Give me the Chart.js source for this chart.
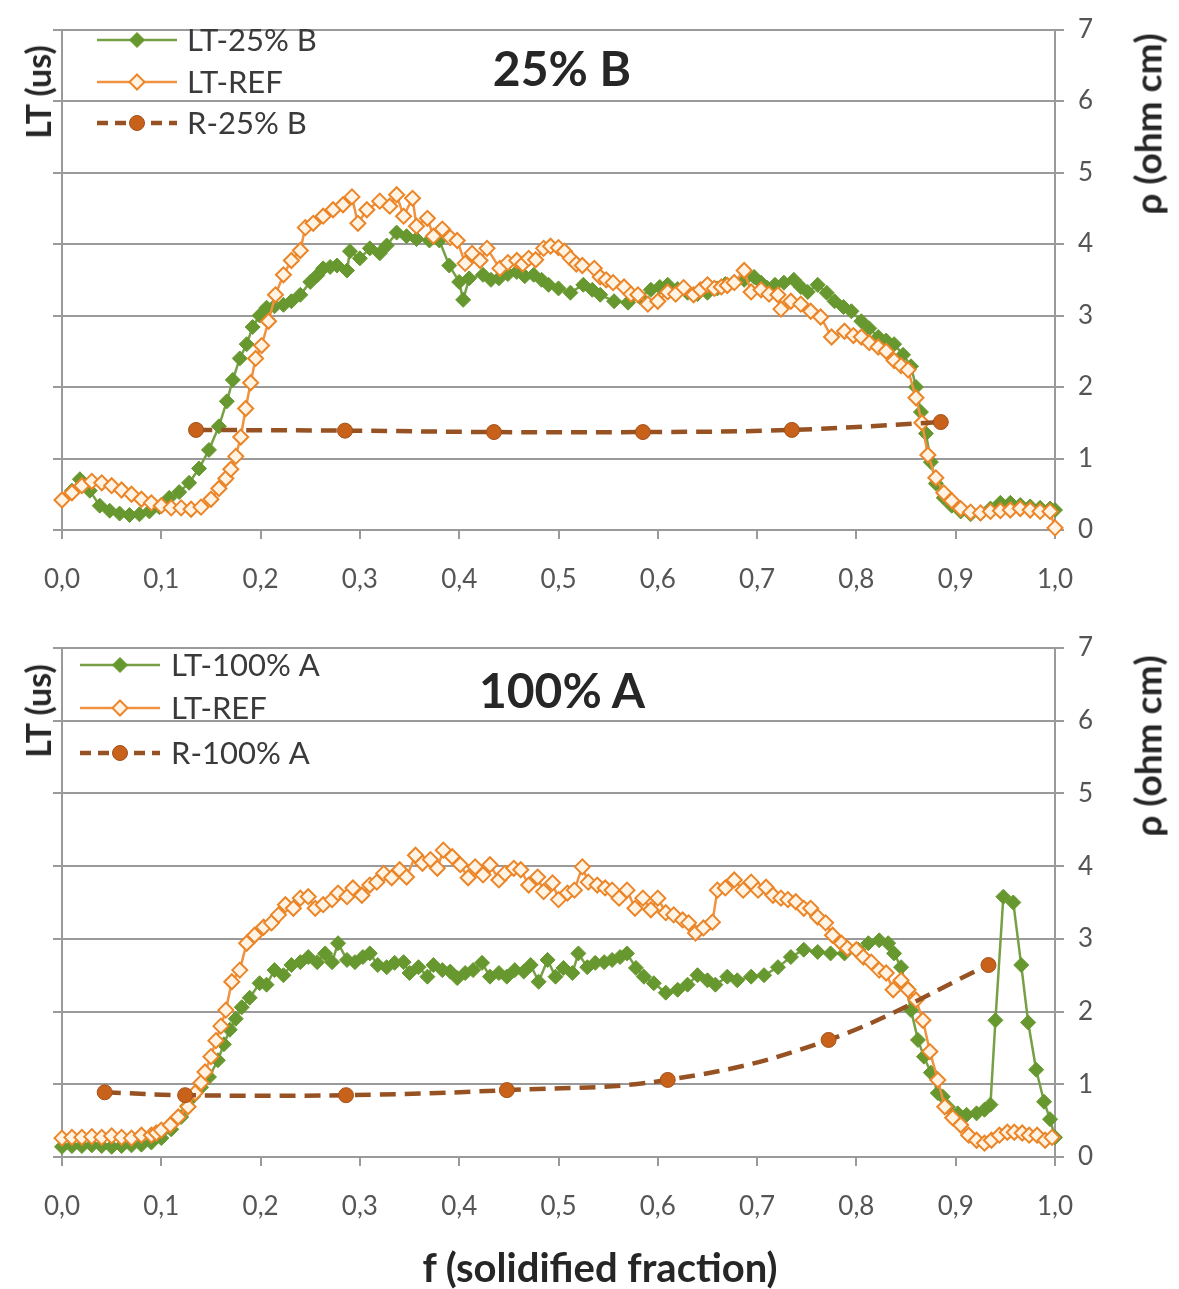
<!DOCTYPE html>
<html>
<head>
<meta charset="utf-8">
<script src="https://cdn.jsdelivr.net/npm/chart.js@4.4.1/dist/chart.umd.min.js"></script>
<style>
  html, body { margin: 0; padding: 0; background: #ffffff; }
  #page { position: relative; width: 1179px; height: 1289px; overflow: hidden; font-family: Lato, "Open Sans", sans-serif; }
  canvas { position: absolute; left: 0; }
  .t { position: absolute; white-space: nowrap; font-weight: bold; color: #262626; transform: translate(-50%, -50%); line-height: 1; }
  .v { transform: translate(-50%, -50%) rotate(-90deg); }
</style>
</head>
<body>
<div id="page">
  <canvas id="topChart" width="1179" height="600" style="top:0"></canvas>
  <canvas id="bottomChart" width="1179" height="679" style="top:610px"></canvas>

  <div class="t v" style="left:38px; top:92px; font-size:34px;">LT (us)</div>
  <div class="t v" style="left:1147px; top:124px; font-size:37px;">ρ (ohm cm)</div>
  <div class="t" style="left:562px; top:68px; font-size:48px;">25% B</div>

  <div class="t v" style="left:38px; top:711px; font-size:34px;">LT (us)</div>
  <div class="t v" style="left:1147px; top:746px; font-size:37px;">ρ (ohm cm)</div>
  <div class="t" style="left:562px; top:690px; font-size:48px;">100% A</div>

  <div class="t" style="left:600px; top:1267px; font-size:40px;">f (solidified fraction)</div>
</div>

<script>
// Solidified fraction tick labels (decimal comma) and resistivity ticks
const fTickLabels = ['0,0', '0,1', '0,2', '0,3', '0,4', '0,5', '0,6', '0,7', '0,8', '0,9', '1,0'];
const rhoTicks = [0, 1, 2, 3, 4, 5, 6, 7];

// ---------- 25% B ----------
const lt25BF = [0.000,0.010,0.018,0.028,0.038,0.048,0.058,0.068,0.078,0.088,0.098,0.108,0.118,0.128,0.138,0.148,0.158,0.166,0.172,0.179,0.186,0.192,0.199,0.206,0.214,0.223,0.231,0.240,0.250,0.257,0.263,0.270,0.277,0.287,0.290,0.300,0.310,0.320,0.327,0.337,0.347,0.357,0.370,0.380,0.390,0.400,0.404,0.410,0.424,0.432,0.440,0.449,0.458,0.466,0.475,0.483,0.490,0.500,0.512,0.525,0.534,0.542,0.556,0.570,0.582,0.593,0.602,0.610,0.620,0.630,0.640,0.650,0.660,0.668,0.677,0.687,0.697,0.704,0.710,0.718,0.727,0.737,0.744,0.751,0.761,0.770,0.778,0.787,0.795,0.805,0.813,0.822,0.830,0.838,0.847,0.855,0.860,0.865,0.870,0.875,0.880,0.888,0.896,0.905,0.915,0.925,0.935,0.945,0.955,0.965,0.975,0.985,0.995,1.000];
const lt25BV = [0.42,0.55,0.71,0.55,0.34,0.27,0.23,0.21,0.22,0.26,0.32,0.45,0.53,0.66,0.86,1.12,1.45,1.80,2.10,2.40,2.60,2.84,3.00,3.11,3.13,3.15,3.20,3.29,3.47,3.56,3.66,3.68,3.70,3.63,3.90,3.80,3.94,3.87,3.98,4.16,4.11,4.07,4.05,4.05,3.70,3.47,3.22,3.52,3.57,3.50,3.52,3.58,3.61,3.55,3.57,3.50,3.43,3.38,3.32,3.43,3.36,3.29,3.20,3.18,3.26,3.36,3.40,3.43,3.37,3.32,3.30,3.32,3.38,3.44,3.47,3.50,3.54,3.46,3.39,3.43,3.46,3.50,3.40,3.33,3.43,3.32,3.20,3.12,3.06,2.92,2.82,2.70,2.65,2.60,2.45,2.29,2.00,1.65,1.35,0.95,0.65,0.45,0.34,0.26,0.22,0.23,0.30,0.38,0.38,0.35,0.33,0.31,0.30,0.28];

const ltRefTopF = [0.000,0.010,0.020,0.030,0.040,0.050,0.060,0.070,0.080,0.090,0.100,0.110,0.120,0.130,0.140,0.150,0.158,0.165,0.170,0.175,0.180,0.185,0.190,0.195,0.201,0.208,0.215,0.223,0.231,0.240,0.245,0.253,0.263,0.273,0.283,0.292,0.298,0.307,0.320,0.330,0.337,0.344,0.353,0.357,0.368,0.374,0.383,0.391,0.398,0.406,0.413,0.421,0.428,0.441,0.449,0.458,0.464,0.470,0.477,0.485,0.492,0.500,0.506,0.512,0.518,0.524,0.536,0.542,0.548,0.555,0.566,0.573,0.580,0.590,0.600,0.610,0.618,0.626,0.636,0.643,0.650,0.657,0.664,0.670,0.677,0.687,0.694,0.704,0.712,0.721,0.724,0.734,0.744,0.754,0.764,0.775,0.788,0.797,0.805,0.813,0.822,0.830,0.838,0.845,0.852,0.860,0.866,0.872,0.880,0.888,0.896,0.905,0.915,0.925,0.935,0.945,0.955,0.965,0.975,0.985,0.995,1.000];
const ltRefTopV = [0.42,0.52,0.62,0.68,0.66,0.62,0.56,0.50,0.43,0.38,0.34,0.31,0.31,0.29,0.32,0.43,0.58,0.72,0.85,1.03,1.30,1.70,2.06,2.40,2.58,2.92,3.29,3.57,3.77,3.91,4.23,4.29,4.39,4.48,4.55,4.66,4.29,4.48,4.60,4.53,4.69,4.39,4.64,4.25,4.36,4.11,4.21,4.09,4.05,3.73,3.87,3.77,3.94,3.66,3.74,3.77,3.72,3.80,3.78,3.94,3.97,3.95,3.90,3.80,3.72,3.70,3.66,3.54,3.50,3.46,3.40,3.30,3.29,3.16,3.20,3.33,3.30,3.39,3.29,3.36,3.43,3.38,3.40,3.42,3.46,3.63,3.33,3.36,3.30,3.29,3.09,3.20,3.16,3.06,2.98,2.70,2.78,2.72,2.70,2.62,2.56,2.50,2.37,2.30,2.24,1.85,1.50,1.05,0.73,0.52,0.41,0.30,0.25,0.24,0.26,0.27,0.28,0.30,0.28,0.26,0.26,0.03];

const r25BF = [0.135, 0.285, 0.435, 0.585, 0.735, 0.885];
const r25BV = [1.40, 1.39, 1.37, 1.37, 1.40, 1.51];

// ---------- 100% A ----------
const lt100AF = [0.000,0.010,0.020,0.030,0.040,0.050,0.060,0.070,0.080,0.090,0.100,0.110,0.120,0.126,0.132,0.140,0.148,0.157,0.163,0.169,0.175,0.181,0.189,0.199,0.206,0.214,0.223,0.231,0.240,0.248,0.257,0.265,0.272,0.278,0.287,0.295,0.303,0.310,0.318,0.327,0.335,0.344,0.350,0.359,0.368,0.374,0.383,0.391,0.398,0.406,0.414,0.423,0.431,0.440,0.448,0.456,0.465,0.472,0.480,0.489,0.497,0.505,0.514,0.520,0.529,0.537,0.546,0.554,0.562,0.569,0.578,0.586,0.596,0.608,0.620,0.630,0.640,0.650,0.658,0.670,0.680,0.694,0.707,0.721,0.734,0.747,0.761,0.774,0.788,0.802,0.812,0.823,0.832,0.838,0.845,0.850,0.855,0.862,0.868,0.875,0.882,0.887,0.892,0.902,0.911,0.921,0.929,0.935,0.940,0.948,0.958,0.966,0.973,0.981,0.989,0.995,1.000];
const lt100AV = [0.14,0.15,0.15,0.16,0.15,0.14,0.15,0.16,0.17,0.20,0.26,0.38,0.55,0.70,0.83,0.96,1.10,1.33,1.55,1.75,1.90,2.06,2.19,2.39,2.37,2.57,2.50,2.64,2.68,2.75,2.68,2.80,2.68,2.94,2.71,2.68,2.75,2.80,2.64,2.61,2.67,2.68,2.53,2.61,2.48,2.64,2.57,2.55,2.46,2.53,2.57,2.67,2.48,2.53,2.48,2.57,2.55,2.64,2.41,2.71,2.48,2.60,2.53,2.80,2.61,2.67,2.68,2.71,2.75,2.80,2.60,2.48,2.39,2.26,2.30,2.37,2.50,2.43,2.37,2.48,2.43,2.48,2.50,2.61,2.75,2.85,2.82,2.80,2.80,2.85,2.94,2.98,2.94,2.80,2.61,2.34,2.02,1.61,1.38,1.16,0.88,0.83,0.69,0.60,0.58,0.60,0.65,0.72,1.88,3.58,3.50,2.64,1.85,1.20,0.76,0.52,0.27];

const ltRefBotF = [0.000,0.010,0.020,0.030,0.040,0.050,0.060,0.070,0.080,0.090,0.095,0.100,0.109,0.117,0.127,0.134,0.140,0.144,0.150,0.155,0.160,0.165,0.171,0.179,0.186,0.194,0.203,0.211,0.218,0.225,0.233,0.240,0.248,0.255,0.263,0.272,0.278,0.287,0.293,0.302,0.310,0.317,0.324,0.332,0.340,0.347,0.356,0.363,0.371,0.378,0.384,0.393,0.401,0.409,0.416,0.424,0.431,0.440,0.446,0.455,0.462,0.470,0.479,0.485,0.494,0.500,0.509,0.516,0.524,0.530,0.539,0.547,0.554,0.561,0.569,0.577,0.585,0.593,0.600,0.608,0.616,0.625,0.631,0.638,0.646,0.655,0.660,0.668,0.677,0.686,0.694,0.701,0.709,0.716,0.724,0.731,0.739,0.747,0.754,0.761,0.769,0.776,0.785,0.791,0.800,0.807,0.815,0.823,0.830,0.837,0.845,0.852,0.860,0.867,0.874,0.882,0.889,0.897,0.905,0.913,0.921,0.929,0.936,0.944,0.952,0.959,0.967,0.974,0.982,0.990,0.997];
const ltRefBotV = [0.26,0.27,0.27,0.28,0.27,0.29,0.27,0.26,0.30,0.30,0.33,0.37,0.44,0.55,0.69,0.88,1.02,1.17,1.38,1.60,1.80,2.02,2.41,2.57,2.94,3.05,3.16,3.22,3.33,3.47,3.42,3.56,3.58,3.42,3.47,3.54,3.63,3.58,3.70,3.60,3.74,3.78,3.90,3.84,3.95,3.85,4.15,4.04,4.09,3.97,4.22,4.13,4.02,3.84,3.99,3.88,4.02,3.81,3.90,3.97,3.95,3.74,3.85,3.65,3.77,3.54,3.63,3.67,3.99,3.78,3.74,3.70,3.67,3.56,3.67,3.42,3.56,3.40,3.56,3.36,3.33,3.26,3.22,3.08,3.15,3.23,3.67,3.70,3.81,3.67,3.78,3.67,3.71,3.60,3.56,3.54,3.51,3.42,3.42,3.30,3.22,3.05,2.94,2.87,2.85,2.75,2.68,2.57,2.53,2.30,2.43,2.30,2.16,1.88,1.45,1.06,0.69,0.54,0.44,0.30,0.23,0.19,0.23,0.30,0.34,0.34,0.33,0.30,0.30,0.23,0.27];

const r100AF = [0.043, 0.124, 0.286, 0.448, 0.610, 0.772, 0.933];
const r100AV = [0.89, 0.85, 0.85, 0.92, 1.06, 1.61, 2.64];

// ---------- styling ----------
const GREEN_LINE = '#77a046';
const GREEN_MARK = '#67982f';
const ORANGE_LINE = '#f09240';
const ORANGE_MARK_EDGE = '#eb8528';
const ORANGE_MARK_FILL = '#fff3e3';
const BROWN_LINE = '#965222';
const BROWN_MARK = '#c8621a';
const GRID = '#9a9a9a';
const TICK_TEXT = '#555555';

function points(fs, vs) {
  return fs.map((f, i) => ({ x: f, y: vs[i] }));
}

function ltSample(label, fs, vs) {
  return {
    label, data: points(fs, vs), yAxisID: 'y', order: 3,
    borderColor: GREEN_LINE, borderWidth: 2.5, tension: 0,
    pointStyle: 'rectRot', pointRadius: 7.5,
    pointBackgroundColor: GREEN_MARK, pointBorderColor: GREEN_MARK, pointBorderWidth: 1,
    clip: 12
  };
}
function ltRef(fs, vs) {
  return {
    label: 'LT-REF', data: points(fs, vs), yAxisID: 'y', order: 2,
    borderColor: ORANGE_LINE, borderWidth: 2.5, tension: 0,
    pointStyle: 'rectRot', pointRadius: 7.5,
    pointBackgroundColor: ORANGE_MARK_FILL, pointBorderColor: ORANGE_MARK_EDGE, pointBorderWidth: 2,
    clip: 12
  };
}
function resistivity(label, fs, vs) {
  return {
    label, data: points(fs, vs), yAxisID: 'y1', order: 1,
    borderColor: BROWN_LINE, borderWidth: 4.5, borderDash: [16, 9], tension: 0.4,
    pointStyle: 'circle', pointRadius: 7.5,
    pointBackgroundColor: BROWN_MARK, pointBorderColor: '#a3501a', pointBorderWidth: 1,
    clip: 12
  };
}

// Legend drawn inside the plot area, Excel style
function drawMarker(ctx, ds, x, y) {
  const r = ds.pointRadius;
  ctx.beginPath();
  if (ds.pointStyle === 'rectRot') {
    ctx.moveTo(x, y - r); ctx.lineTo(x + r, y); ctx.lineTo(x, y + r); ctx.lineTo(x - r, y); ctx.closePath();
  } else {
    ctx.arc(x, y, r, 0, Math.PI * 2);
  }
  ctx.fillStyle = ds.pointBackgroundColor;
  ctx.fill();
  ctx.lineWidth = ds.pointBorderWidth;
  ctx.strokeStyle = ds.pointBorderColor;
  ctx.stroke();
}

const insideLegend = {
  id: 'insideLegend',
  afterDraw(chart, args, opts) {
    const ctx = chart.ctx;
    ctx.save();
    chart.data.datasets.forEach((ds, i) => {
      const y = opts.rows[i];
      ctx.beginPath();
      ctx.setLineDash(ds.borderDash ? [11, 7] : []);
      ctx.lineWidth = ds.borderDash ? 4.5 : 2.5;
      ctx.strokeStyle = ds.borderColor;
      ctx.moveTo(opts.lineStart, y);
      ctx.lineTo(opts.lineEnd, y);
      ctx.stroke();
      ctx.setLineDash([]);
      drawMarker(ctx, ds, (opts.lineStart + opts.lineEnd) / 2, y);
      ctx.fillStyle = '#3a3a3a';
      ctx.font = '31px Lato';
      ctx.textBaseline = 'middle';
      ctx.textAlign = 'left';
      ctx.fillText(ds.label, opts.textX, y + 1);
    });
    ctx.restore();
  }
};

function makeChart(id, datasets, padTop, padBottom, legendOpts) {
  const tickFont = { family: 'Lato', size: 26 };
  return new Chart(document.getElementById(id), {
    type: 'line',
    data: { datasets },
    plugins: [insideLegend],
    options: {
      responsive: false,
      animation: false,
      events: [],
      layout: { padding: { left: 50, right: 64, top: padTop, bottom: padBottom } },
      plugins: {
        legend: { display: false },
        tooltip: { enabled: false },
        insideLegend: legendOpts
      },
      scales: {
        x: {
          type: 'linear', min: 0, max: 1,
          ticks: {
            stepSize: 0.1, autoSkip: false, maxRotation: 0, padding: 25,
            color: TICK_TEXT, font: tickFont,
            callback: (v, i) => fTickLabels[i]
          },
          grid: { drawOnChartArea: false, drawTicks: true, tickLength: 9, color: GRID, lineWidth: 2 },
          border: { color: GRID, width: 2 },
          afterFit(scale) { scale.height = 62; }
        },
        y: {
          position: 'left', min: 0, max: 7,
          ticks: { display: false, stepSize: 1 },
          grid: { drawOnChartArea: false, drawTicks: true, tickLength: 9, color: GRID, lineWidth: 2 },
          border: { color: GRID, width: 2 },
          afterFit(scale) { scale.width = 12; }
        },
        y1: {
          position: 'right', min: 0, max: 7,
          ticks: {
            stepSize: 1, padding: 14, color: TICK_TEXT, font: tickFont,
            callback: (v, i) => String(rhoTicks[i])
          },
          grid: { drawOnChartArea: true, drawTicks: true, tickLength: 9, color: GRID, lineWidth: 2 },
          border: { color: GRID, width: 2 },
          afterFit(scale) { scale.width = 60; }
        }
      }
    }
  });
}

makeChart('topChart', [
  ltSample('LT-25% B', lt25BF, lt25BV),
  ltRef(ltRefTopF, ltRefTopV),
  resistivity('R-25% B', r25BF, r25BV)
], 20, 8, { rows: [40, 82, 123], lineStart: 97, lineEnd: 177, textX: 187 });

makeChart('bottomChart', [
  ltSample('LT-100% A', lt100AF, lt100AV),
  ltRef(ltRefBotF, ltRefBotV),
  resistivity('R-100% A', r100AF, r100AV)
], 38, 70, { rows: [55, 98, 143], lineStart: 80, lineEnd: 160, textX: 171 });
</script>
</body>
</html>
